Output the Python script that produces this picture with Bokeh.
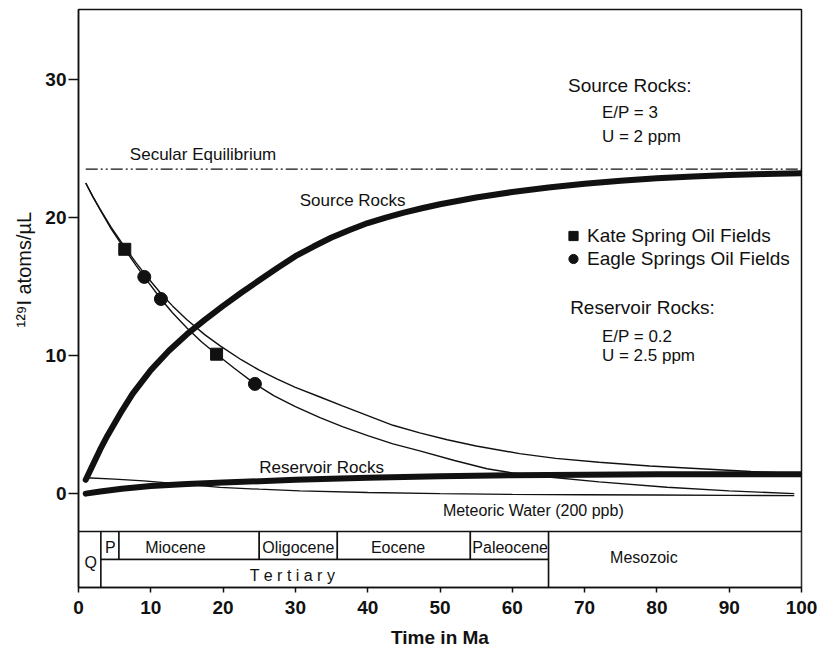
from bokeh.plotting import figure
from bokeh.models import FixedTicker, Label, Legend, LegendItem, Title
from bokeh.embed import file_html
from bokeh.resources import INLINE

FONT = "Liberation Sans"
INK = "#111111"

# ---- 129I concentration curves (atoms/uL) versus time (Ma) ----
source_t = [1, 2, 3, 4, 5, 6, 7.5, 10, 12.5, 15, 17.5, 20, 22.5, 25, 27.5, 30, 32.5, 35, 37.5,
            40, 42.5, 45, 47.5, 50, 55, 60, 65, 70, 75, 80, 85, 90, 95, 100]
source_i = [1.0, 2.1, 3.2, 4.2, 5.1, 6.0, 7.25, 8.95, 10.35, 11.55, 12.6, 13.6, 14.55, 15.45, 16.35, 17.2, 17.9, 18.55, 19.1,
            19.6, 20.0, 20.35, 20.67, 20.96, 21.45, 21.85, 22.18, 22.45, 22.67, 22.85, 22.98, 23.08, 23.15, 23.2]

reservoir_t = [1, 3, 6, 10, 15, 20, 30, 40, 50, 60, 70, 80, 90, 100]
reservoir_i = [0.0, 0.15, 0.35, 0.55, 0.7, 0.8, 1.0, 1.15, 1.25, 1.33, 1.37, 1.4, 1.4, 1.4]

meteoric_t = [1, 5, 9, 14, 19.6, 25, 30.6, 40, 50, 60, 70, 80, 90, 99]
meteoric_i = [1.15, 1.05, 0.92, 0.7, 0.46, 0.32, 0.2, 0.08, 0.0, -0.05, -0.08, -0.1, -0.12, -0.15]

decay_upper_t = [1, 2, 3, 4.5, 6.4, 8, 9.1, 11.4, 13, 15, 17.5, 19.6, 22.5, 25, 27.5, 30, 33.4, 36.5,
                 40, 43.5, 47.2, 51, 55, 61, 66, 72, 79, 86, 93, 100]
decay_upper_i = [22.5, 21.5, 20.6, 19.3, 17.85, 16.7, 15.95, 14.5, 13.6, 12.6, 11.5, 10.7, 9.7, 8.95, 8.3, 7.7, 7.0, 6.35,
                 5.65, 4.95, 4.4, 3.9, 3.45, 2.9, 2.55, 2.27, 2.0, 1.8, 1.6, 1.45]

decay_lower_t = [1, 2, 3, 4.5, 6.4, 8, 9.1, 11.4, 13, 15, 17, 19.1, 21.5, 24.4, 27, 30, 33.4, 36.5,
                 40, 43.5, 47.2, 52, 56.5, 60, 65, 72, 81.4, 90, 99]
decay_lower_i = [22.5, 21.5, 20.55, 19.2, 17.7, 16.5, 15.7, 14.1, 13.1, 12.0, 11.0, 10.1, 9.1, 7.95, 7.1, 6.3, 5.5, 4.85,
                 4.2, 3.6, 3.1, 2.4, 1.8, 1.5, 1.2, 0.85, 0.46, 0.2, 0.0]

secular_equilibrium = 23.5

# ---- oil-field samples ----
kate_t = [6.4, 19.1]
kate_i = [17.7, 10.1]
eagle_t = [9.1, 11.4, 24.4]
eagle_i = [15.7, 14.1, 7.95]

# ---- geologic time scale (Ma) ----
full_units = ["Q", "Mesozoic"]
full_start = [0.0, 65.0]
full_end = [3.1, 100.0]

epochs = ["P", "Miocene", "Oligocene", "Eocene", "Paleocene"]
epoch_start = [3.1, 5.6, 25.0, 35.8, 54.2]
epoch_end = [5.6, 25.0, 35.8, 54.2, 65.0]

periods = ["T e r t i a r y"]
period_start = [3.1]
period_end = [65.0]

x_ticks = [0, 10, 20, 30, 40, 50, 60, 70, 80, 90, 100]
y_ticks = [0, 10, 20, 30]

# layout of the time-scale strip (in axis units below the zero line)
STRIP_TOP, STRIP_MID, STRIP_BOTTOM = -2.75, -4.78, -6.8
epoch_label_x = [4.4, 13.4, 30.4, 44.2, 59.7]
full_label_x = [1.7, 78.2]
period_label_x = [29.6]

p = figure(width=819, height=659, x_range=(0, 100), y_range=(STRIP_BOTTOM, 35.07),
           output_backend="svg", toolbar_location=None,
           min_border_left=78, min_border_right=18, min_border_top=9, min_border_bottom=72)
p.xgrid.visible = False
p.ygrid.visible = False
p.outline_line_color = INK
p.outline_line_width = 1.5
p.background_fill_color = "white"
p.border_fill_color = "white"

for ax in (p.xaxis[0], p.yaxis[0]):
    ax.axis_line_color = INK
    ax.axis_line_width = 1.5
    ax.major_tick_line_color = INK
    ax.major_tick_line_width = 1.5
    ax.major_tick_in = 0
    ax.minor_tick_in = 0
    ax.minor_tick_out = 0
    ax.major_label_text_font = FONT
    ax.major_label_text_font_size = "19px"
    ax.major_label_text_font_style = "bold"
    ax.major_label_text_color = INK

p.xaxis.ticker = FixedTicker(ticks=x_ticks)
p.xaxis.major_tick_out = 5
p.xaxis.major_label_standoff = 8
p.xaxis.axis_label = "Time in Ma"
p.xaxis.axis_label_text_font = FONT
p.xaxis.axis_label_text_font_size = "19px"
p.xaxis.axis_label_text_font_style = "bold"
p.xaxis.axis_label_text_color = INK
p.xaxis.axis_label_standoff = 10

p.yaxis.ticker = FixedTicker(ticks=y_ticks)
p.yaxis.major_tick_out = 10
p.yaxis.major_label_standoff = 2

# rotated y-axis title, placed beside the concentration part of the frame
ylab = Title(text="\u00b9\u00b2\u2079I  atoms/\u00b5L", align="left", offset=260,
             text_font=FONT, text_font_size="20px", text_font_style="normal",
             text_color=INK, standoff=16)
p.add_layout(ylab, "left")

# ---- time-scale strip ----
p.quad(left=full_start, right=full_end, top=STRIP_TOP, bottom=STRIP_BOTTOM,
       fill_color="white", line_color=INK, line_width=1.5)
p.quad(left=epoch_start, right=epoch_end, top=STRIP_TOP, bottom=STRIP_MID,
       fill_color="white", line_color=INK, line_width=1.5)
p.quad(left=period_start, right=period_end, top=STRIP_MID, bottom=STRIP_BOTTOM,
       fill_color="white", line_color=INK, line_width=1.5)

def put(x, y, text, size="16px", align="center", style="normal"):
    p.add_layout(Label(x=x, y=y, text=text, text_font=FONT, text_font_size=size,
                       text_font_style=style, text_color=INK,
                       text_align=align, text_baseline="middle"))

for name, lx in zip(epochs, epoch_label_x):
    put(lx, -3.9, name)
put(full_label_x[0], -5.0, full_units[0])
put(full_label_x[1], -4.64, full_units[1])
put(period_label_x[0], -5.95, periods[0])

# ---- curves ----
p.line([source_t[0], source_t[-1]], [secular_equilibrium, secular_equilibrium],
       line_color=INK, line_width=1.2, line_dash="12 3 2 3 2 3")
p.line(meteoric_t, meteoric_i, line_color=INK, line_width=1.3)
p.line(decay_upper_t, decay_upper_i, line_color=INK, line_width=1.4)
p.line(decay_lower_t, decay_lower_i, line_color=INK, line_width=1.4)
p.line(source_t, source_i, line_color=INK, line_width=6, line_cap="round", line_join="round")
p.line(reservoir_t, reservoir_i, line_color=INK, line_width=6, line_cap="round", line_join="round")

r_kate = p.scatter(kate_t, kate_i, marker="square", size=12, color=INK)
r_eagle = p.scatter(eagle_t, eagle_i, marker="circle", size=13, color=INK)

# ---- annotations ----
put(7.1, 24.6, "Secular Equilibrium", size="17px", align="left")
put(30.6, 21.2, "Source Rocks", size="17px", align="left")
put(25.0, 1.9, "Reservoir Rocks", size="17px", align="left")
put(50.4, -1.23, "Meteoric Water (200 ppb)", size="16px", align="left")

put(67.7, 29.6, "Source Rocks:", size="19px", align="left")
put(72.4, 27.6, "E/P = 3", size="17px", align="left")
put(72.4, 25.9, "U = 2 ppm", size="17px", align="left")
put(68.0, 13.5, "Reservoir Rocks:", size="19px", align="left")
put(72.4, 11.4, "E/P = 0.2", size="17px", align="left")
put(72.4, 10.0, "U = 2.5 ppm", size="17px", align="left")

legend = Legend(items=[LegendItem(label="Kate Spring Oil Fields", renderers=[r_kate]),
                       LegendItem(label="Eagle Springs Oil Fields", renderers=[r_eagle])],
                location=(482, 317), padding=0, margin=0, spacing=0,
                glyph_width=26, glyph_height=23, label_height=23, label_standoff=1,
                label_text_font=FONT, label_text_font_size="19px", label_text_color=INK,
                border_line_color=None, background_fill_alpha=0)
p.add_layout(legend)

open("out.html", "w").write(file_html(p, INLINE))
